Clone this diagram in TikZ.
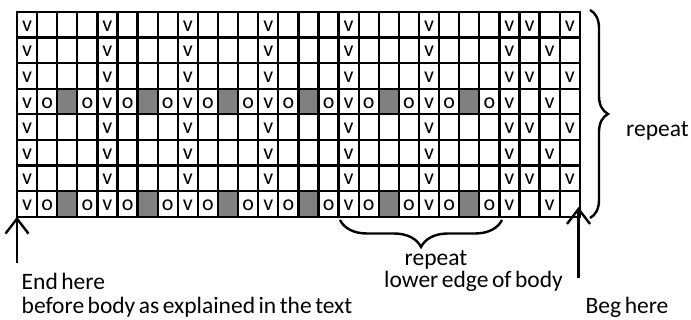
\documentclass[tikz,border=0pt]{standalone}
\usepackage{fontspec}
\setmainfont{Carlito}[WordSpace=0.66]
\usetikzlibrary{arrows.meta,decorations.pathreplacing}

\begin{document}
\begin{tikzpicture}[x=1pt,y=1pt,
  stitch/.style={inner sep=0pt,font=\fontsize{22}{22}\selectfont},
  note/.style={inner sep=0pt,font=\fontsize{23.5}{25}\selectfont},
  brace/.style={decorate,decoration={brace,amplitude=#1},line width=2.4pt},
  pointer/.style={-{Straight Barb[length=15pt,width=23pt,line width=2.4pt]},line width=2.4pt}]
\useasboundingbox (0,0) rectangle (691,320);

% the chart, one unit = one stitch
\begin{scope}[shift={(17,103.3)},x=20.1pt,y=25.6pt]
\foreach \r in {0,4}
  \foreach \c in {2,6,...,22}
    \fill[gray] (\c,\r) rectangle +(1,1);
\draw[line width=2.3pt,line cap=rect,xstep=20.1pt,ystep=25.6pt] (0,0) grid (28,8);
\coordinate (sw) at (0,0);

\foreach \r in {1,3,5,7}
  \foreach \c in {1,5,9,13,17,21,25,26,28}
    \node[stitch] (v\c-\r) at (\c-0.5,\r+0.45) {v};
\foreach \r in {2,6}
  \foreach \c in {1,5,9,13,17,21,25,27}
    \node[stitch] (v\c-\r) at (\c-0.5,\r+0.45) {v};
\foreach \r in {0,4} {
  \foreach \c in {1,5,9,13,17,21,25,27}
    \node[stitch] (v\c-\r) at (\c-0.5,\r+0.45) {v};
  \foreach \c in {2,4,...,24}
    \node[stitch] (o\c-\r) at (\c-0.5,\r+0.45) {o};
}
\end{scope}

% braces
\draw[brace=18pt] (590,310) -- (590,102);
\draw[brace=27pt] (502,100) -- (340,100);
\node[note,anchor=base west] (rows-repeat) at (626,183) {repeat};
\node[note,anchor=base] (cols-repeat) at (436,54) {repeat};
\node[note,anchor=base] (lower-edge) at (473.5,32) {lower edge of body};

% start and end
\coordinate (end-tail) at (17,57);
\coordinate (beg-tail) at (578.5,42);
\coordinate (beg-tip) at (578.5,113);
\draw[pointer] (end-tail) -- (sw);
\draw[pointer] (beg-tail) -- (beg-tip);
\node[note,anchor=base west] (end-here) at (21.5,30) {End here};
\node[note,anchor=base west] (before-body) at (21.5,6) {before body as explained in the text};
\node[note,anchor=base west] (beg-here) at (585.5,6) {Beg here};
\end{tikzpicture}
\end{document}
